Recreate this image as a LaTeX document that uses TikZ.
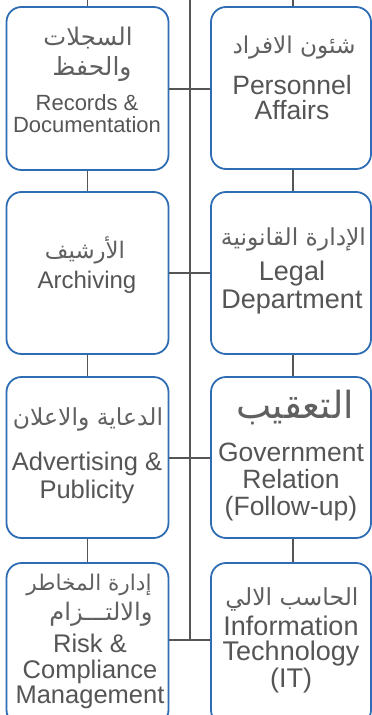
\documentclass[tikz,border=0pt]{standalone}
\usepackage{fontspec}
\setmainfont{Liberation Sans}
\newfontfamily\arabicfont[Script=Arabic]{DejaVu Sans}
\TeXXeTstate=1
\definecolor{boxblue}{HTML}{2E6DB4}
\definecolor{linegray}{HTML}{555555}
\definecolor{txtgray}{HTML}{555555}
\definecolor{artgray}{HTML}{606060}
\newcommand\fs[1]{\fontsize{#1}{#1}\selectfont}
\begin{document}
\begin{tikzpicture}[x=1pt,y=-1pt,
  box/.style={draw=boxblue, line width=1.8pt, rounded corners=15pt, fill=white, inner sep=0pt},
  conn/.style={draw=linegray, line width=1.6pt},
  txt/.style={anchor=base, text=txtgray, inner sep=0pt},
  artx/.style={anchor=base, text=artgray, inner sep=0pt, font=\arabicfont},
]
\useasboundingbox (0,0) rectangle (372,715);
\clip (0,0) rectangle (372,715);
% coordinates
\coordinate (top) at (190,0);
\coordinate (bot) at (190,640);
\coordinate (tl) at (87.5,0);
\coordinate (tr) at (293,0);
% central trunk
\draw[conn] (top) -- (bot);
% boxes
\node[box, minimum width=162pt, minimum height=163pt] (b1) at (87.5,88.5) {};
\node[box, minimum width=160pt, minimum height=162pt] (b2) at (291,88) {};
\node[box, minimum width=162pt, minimum height=162pt] (b3) at (87.5,273) {};
\node[box, minimum width=160pt, minimum height=162pt] (b4) at (291,273) {};
\node[box, minimum width=162pt, minimum height=161pt] (b5) at (87.5,457.5) {};
\node[box, minimum width=160pt, minimum height=161pt] (b6) at (291,457.5) {};
\node[box, minimum width=162pt, minimum height=162pt] (b7) at (87.5,644) {};
\node[box, minimum width=160pt, minimum height=162pt] (b8) at (291,644) {};
% horizontal connectors
\draw[conn] (b1.east |- 0,89) -- (top |- 0,89) -- (b2.west |- 0,89);
\draw[conn] (b3.east) -- (b3.east -| top) -- (b4.west);
\draw[conn] (b5.east |- 0,458) -- (top |- 0,458) -- (b6.west |- 0,458);
\draw[conn] (b7.east |- bot) -- (bot) -- (b8.west |- bot);
% vertical connectors
\draw[conn] (tl) -- (b1.north);
\draw[conn] (b1.south) -- (b3.north);
\draw[conn] (b3.south) -- (b5.north);
\draw[conn] (b5.south) -- (b7.north);
\draw[conn] (tr) -- (tr |- b2.north);
\draw[conn] (tr |- b2.south) -- (tr |- b4.north);
\draw[conn] (tr |- b4.south) -- (tr |- b6.north);
\draw[conn] (tr |- b6.south) -- (tr |- b8.north);
% texts box 1
\node[artx] (t1a) at (88,45) {\resizebox{89pt}{!}{\beginR السجلات\endR}};
\node[artx] (t1b) at (92,75) {\resizebox{79pt}{!}{\beginR والحفظ\endR}};
\node[txt, font=\fs{22}] (t1c) at (87,110) {Records \&};
\node[txt, font=\fs{22}] (t1d) at (87,132) {Documentation};
% box 2
\node[artx] (t2a) at (294,53) {\resizebox{123pt}{!}{\beginR شئون الافراد\endR}};
\node[txt, font=\fs{26.5}] (t2b) at (292,94) {Personnel};
\node[txt, font=\fs{26.5}] (t2c) at (292,119) {Affairs};
% box 3
\node[artx] (t3a) at (85,258) {\resizebox{80pt}{!}{\beginR الأرشيف\endR}};
\node[txt, font=\fs{24}] (t3b) at (87,288) {Archiving};
% box 4
\node[artx] (t4a) at (293.5,245) {\resizebox{145pt}{!}{\beginR الإدارة القانونية\endR}};
\node[txt, font=\fs{27}] (t4b) at (292,280) {Legal};
\node[txt, font=\fs{27}] (t4c) at (292,308) {Department};
% box 5
\node[artx] (t5a) at (88,425) {\resizebox{150pt}{!}{\beginR الدعاية والاعلان\endR}};
\node[txt, font=\fs{25.5}] (t5b) at (87,470) {Advertising \&};
\node[txt, font=\fs{25.5}] (t5c) at (87,498) {Publicity};
% box 6
\node[artx] (t6a) at (295,418) {\resizebox{118pt}{!}{\beginR التعقيب\endR}};
\node[txt, font=\fs{26.5}] (t6b) at (291,461) {Government};
\node[txt, font=\fs{26.5}] (t6c) at (291,488) {Relation};
\node[txt, font=\fs{26.5}] (t6d) at (291,515) {(Follow-up)};
% box 7
\node[artx] (t7a) at (89,590) {\resizebox{125pt}{!}{\beginR إدارة المخاطر\endR}};
\node[artx] (t7b) at (101,620) {\resizebox{103pt}{!}{\beginR والالتـــزام\endR}};
\node[txt, font=\fs{25.5}] (t7c) at (90,652) {Risk \&};
\node[txt, font=\fs{25.5}] (t7d) at (90,678) {Compliance};
\node[txt, font=\fs{25.5}] (t7e) at (90,703) {Management};
% box 8
\node[artx] (t8a) at (292,605) {\resizebox{133pt}{!}{\beginR الحاسب الالي\endR}};
\node[txt, font=\fs{27}] (t8b) at (291,635) {Information};
\node[txt, font=\fs{27}] (t8c) at (291,660) {Technology};
\node[txt, font=\fs{27}] (t8d) at (291,687) {(IT)};
\end{tikzpicture}
\end{document}
